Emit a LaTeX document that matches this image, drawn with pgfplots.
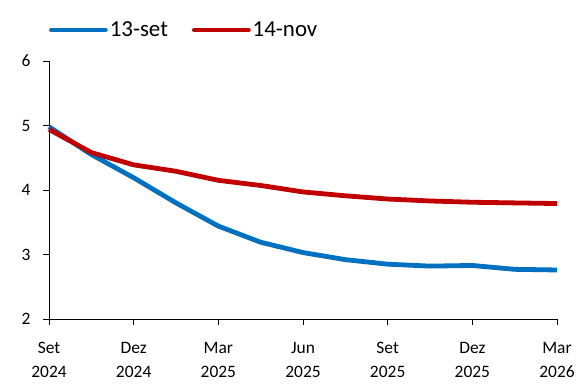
\documentclass[border=0pt]{standalone}
\usepackage{fontspec}
\setmainfont{Carlito}
\usepackage{pgfplots}
\pgfplotsset{compat=1.18}
\definecolor{cblue}{HTML}{0070C0}
\definecolor{cred}{HTML}{C00000}
\begin{document}
\begin{tikzpicture}
\begin{axis}[
  at={(0,0)}, anchor=south west,
  scale only axis, width=508bp, height=258bp,
  xmin=0, xmax=12, ymin=2, ymax=6,
  axis lines=left,
  axis line style={-, black, line width=0.8bp},
  xtick={0,2,4,6,8,10,12},
  xticklabels={Set\\2024,Dez\\2024,Mar\\2025,Jun\\2025,Set\\2025,Dez\\2025,Mar\\2026},
  xticklabel style={align=center, font=\fontsize{17.5}{24}\selectfont, yshift=-14bp},
  ytick={2,3,4,5,6},
  yticklabel style={font=\fontsize{17.5}{21}\selectfont, xshift=-9bp},
  /pgf/number format/assume math mode=true,
  tick align=outside, major tick length=6bp,
  tick style={black, line width=0.8bp},
  clip=false,
  legend columns=2,
  legend style={draw=none, fill=none, at={(0,1.12)}, anchor=west, inner sep=0pt, outer sep=0pt,
    font=\fontsize{23}{26}\selectfont,
    /tikz/every even column/.append style={column sep=22bp}},
  legend cell align=left,
  legend image code/.code={\draw[#1, line width=4.8bp, line cap=round] (0bp,0bp) -- (54bp,0bp);},
]
\addplot[cblue, line width=4.8bp, line join=round] coordinates {
(0,4.98) (1,4.55) (2,4.19) (3,3.80) (4,3.44) (5,3.19) (6,3.03) (7,2.92) (8,2.85) (9,2.82) (10,2.83) (11,2.77) (12,2.76)};
\addlegendentry{13-set}
\addplot[cred, line width=4.8bp, line join=round] coordinates {
(0,4.94) (1,4.58) (2,4.39) (3,4.29) (4,4.15) (5,4.07) (6,3.97) (7,3.91) (8,3.86) (9,3.83) (10,3.81) (11,3.80) (12,3.79)};
\addlegendentry{14-nov}
\end{axis}
\node[anchor=base west, inner sep=0pt, font=\fontsize{23}{26}\selectfont] at (31bp,321bp) {(\%)};
\pgfresetboundingbox
\useasboundingbox (-49bp,-68bp) rectangle (537bp,319bp);
\end{tikzpicture}
\end{document}
